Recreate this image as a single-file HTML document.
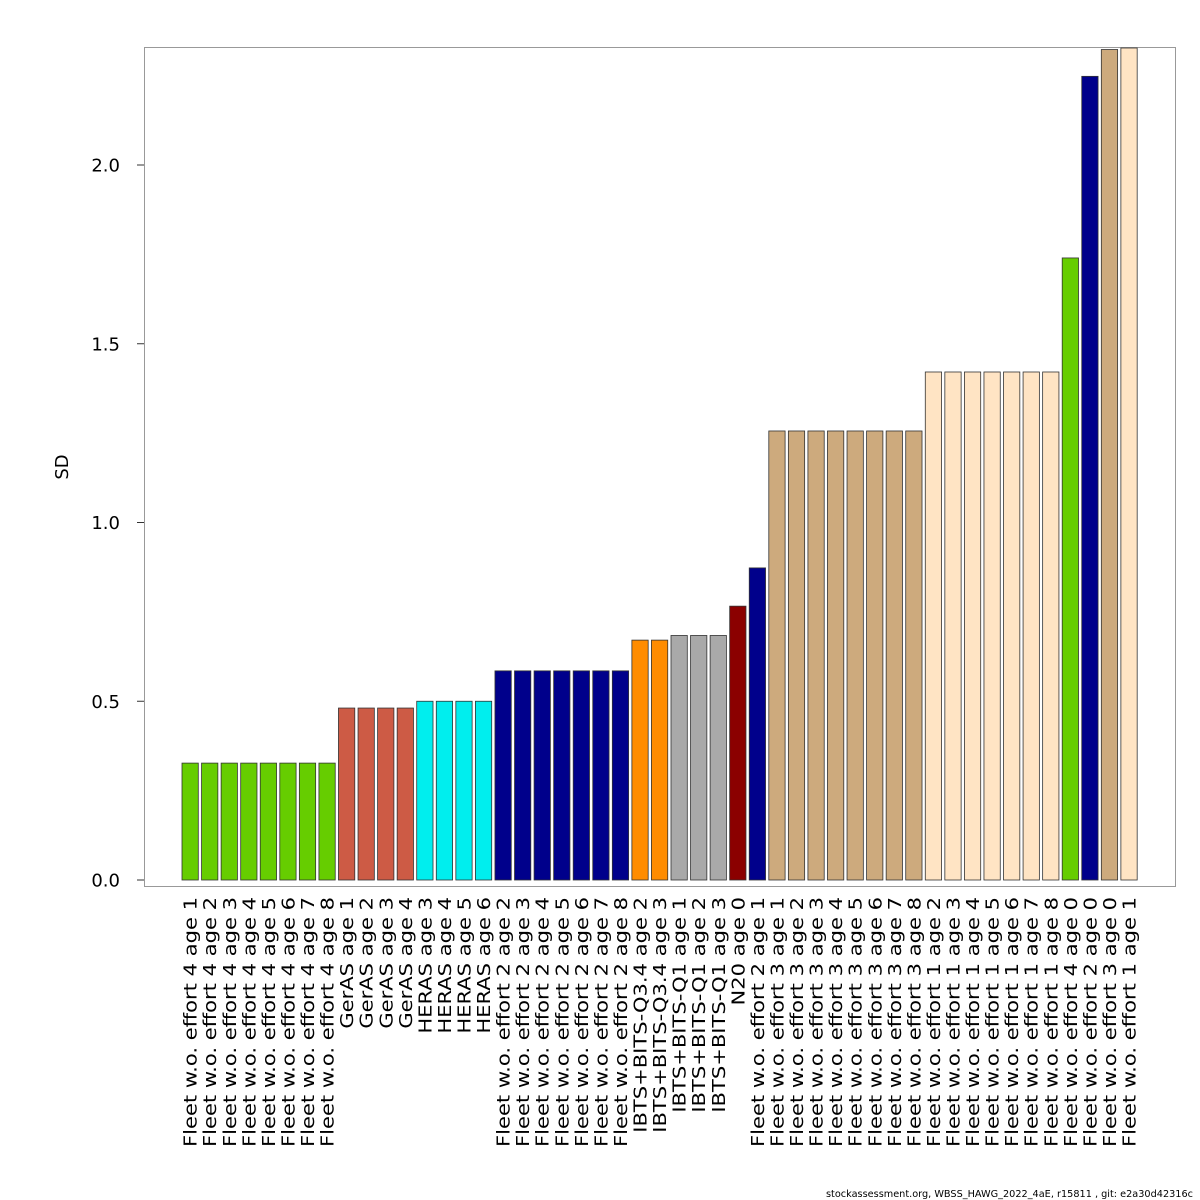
<!DOCTYPE html>
<html><head><meta charset="utf-8"><style>
html,body{margin:0;padding:0;background:#fff;}
svg{display:block;font-family:"DejaVu Sans","Liberation Sans",sans-serif;}
</style></head><body>
<svg id="chart" width="1200" height="1200" xmlns="http://www.w3.org/2000/svg">
<rect x="144.5" y="47.5" width="1031" height="839" fill="none" stroke="#999" stroke-width="1"/>
<text transform="translate(68,467) rotate(-90)" text-anchor="middle" font-size="18">SD</text>
<text x="1193" y="1197" text-anchor="end" font-size="10" textLength="367" lengthAdjust="spacingAndGlyphs">stockassessment.org, WBSS_HAWG_2022_4aE, r15811 , git: e2a30d42316c</text>
<g id="bars"></g><g id="labels"></g><g id="yaxis"></g>
</svg>
<script>
const categories = ["Fleet w.o. effort 4 age 1","Fleet w.o. effort 4 age 2","Fleet w.o. effort 4 age 3","Fleet w.o. effort 4 age 4","Fleet w.o. effort 4 age 5","Fleet w.o. effort 4 age 6","Fleet w.o. effort 4 age 7","Fleet w.o. effort 4 age 8","GerAS age 1","GerAS age 2","GerAS age 3","GerAS age 4","HERAS age 3","HERAS age 4","HERAS age 5","HERAS age 6","Fleet w.o. effort 2 age 2","Fleet w.o. effort 2 age 3","Fleet w.o. effort 2 age 4","Fleet w.o. effort 2 age 5","Fleet w.o. effort 2 age 6","Fleet w.o. effort 2 age 7","Fleet w.o. effort 2 age 8","IBTS+BITS-Q3.4 age 2","IBTS+BITS-Q3.4 age 3","IBTS+BITS-Q1 age 1","IBTS+BITS-Q1 age 2","IBTS+BITS-Q1 age 3","N20 age 0","Fleet w.o. effort 2 age 1","Fleet w.o. effort 3 age 1","Fleet w.o. effort 3 age 2","Fleet w.o. effort 3 age 3","Fleet w.o. effort 3 age 4","Fleet w.o. effort 3 age 5","Fleet w.o. effort 3 age 6","Fleet w.o. effort 3 age 7","Fleet w.o. effort 3 age 8","Fleet w.o. effort 1 age 2","Fleet w.o. effort 1 age 3","Fleet w.o. effort 1 age 4","Fleet w.o. effort 1 age 5","Fleet w.o. effort 1 age 6","Fleet w.o. effort 1 age 7","Fleet w.o. effort 1 age 8","Fleet w.o. effort 4 age 0","Fleet w.o. effort 2 age 0","Fleet w.o. effort 3 age 0","Fleet w.o. effort 1 age 1"];
const values = [0.327,0.327,0.327,0.327,0.327,0.327,0.327,0.327,0.481,0.481,0.481,0.481,0.5,0.5,0.5,0.5,0.585,0.585,0.585,0.585,0.585,0.585,0.585,0.671,0.671,0.684,0.684,0.684,0.766,0.873,1.256,1.256,1.256,1.256,1.256,1.256,1.256,1.256,1.421,1.421,1.421,1.421,1.421,1.421,1.421,1.740,2.248,2.323,2.34];
const fleetColors = {"Fleet w.o. effort 4":"#66CD00","GerAS":"#CD5B45","HERAS":"#00EEEE","Fleet w.o. effort 2":"#00008B","IBTS+BITS-Q3.4":"#FF8C00","IBTS+BITS-Q1":"#A9A9A9","N20":"#8B0000","Fleet w.o. effort 3":"#CDAA7D","Fleet w.o. effort 1":"#FFE4C4"};
const yTicks = [0,0.5,1,1.5,2];
const yTickLabels = ["0.0","0.5","1.0","1.5","2.0"];

const NS="http://www.w3.org/2000/svg";
const y0=880, pxPerUnit=357.5, plotTop=48;
function yScale(v){return y0 - v*pxPerUnit;}
const barW=16.3, pitch=19.56, firstLeft=182;
function xLeft(i){return firstLeft + i*pitch;}
function mk(tag,attrs){const e=document.createElementNS(NS,tag);for(const k in attrs)e.setAttribute(k,attrs[k]);return e;}

const gB=document.getElementById('bars'), gL=document.getElementById('labels'), gY=document.getElementById('yaxis');
categories.forEach((c,i)=>{
  const fleet=c.replace(/ age \d+$/,'');
  const top=Math.max(yScale(values[i]),plotTop);
  const r=mk('rect',{x:xLeft(i),y:top,width:barW,height:y0-top,fill:fleetColors[fleet],stroke:'#333','stroke-width':0.8});
  
  
  gB.appendChild(r);
  const cx=xLeft(i)+barW/2;
  const t=mk('text',{transform:`translate(${cx+6.5},897) rotate(-90) scale(1.17,1)`,'text-anchor':'end','font-size':18});
  t.textContent=c;
  
  
  gL.appendChild(t);
});
yTicks.forEach((v,i)=>{
  const y=yScale(v);
  const l=mk('line',{x1:137,x2:144,y1:y,y2:y,stroke:'#333','stroke-width':1});
  
  
  gY.appendChild(l);
  const t=mk('text',{x:120,y:y+6.5,'text-anchor':'end','font-size':18});
  t.textContent=yTickLabels[i];
  
  
  gY.appendChild(t);
});
</script>
</body></html>
